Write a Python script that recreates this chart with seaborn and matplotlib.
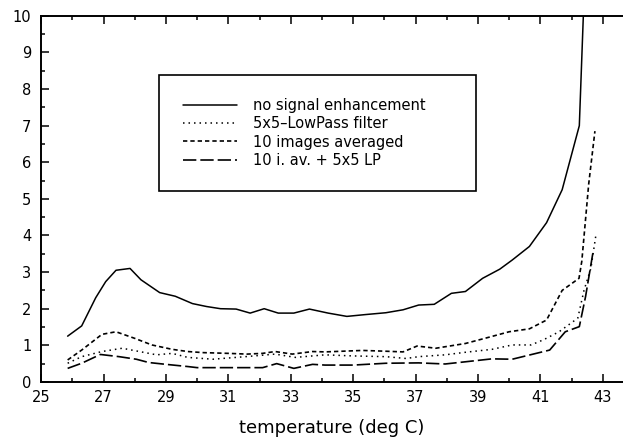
import matplotlib
matplotlib.use("Agg")
import matplotlib.pyplot as plt
from matplotlib.ticker import MultipleLocator
import seaborn as sns
import pandas as pd

# Measured curves: temperature (deg C) vs. signal
temp_plain = [25.85, 26.3, 26.75, 27.07, 27.4, 27.85, 28.2, 28.8, 29.3, 29.85,
              30.3, 30.75, 31.25, 31.7, 32.15, 32.6, 33.1, 33.6, 34.2, 34.8,
              35.4, 36.05, 36.6, 37.1, 37.6, 38.15, 38.6, 39.15, 39.7, 40.1,
              40.65, 41.2, 41.7, 42.25, 42.4]
val_plain = [1.25, 1.53, 2.3, 2.74, 3.05, 3.1, 2.79, 2.44, 2.34, 2.14,
             2.06, 2.0, 1.99, 1.88, 2.0, 1.88, 1.88, 1.99, 1.88, 1.79,
             1.84, 1.89, 1.97, 2.1, 2.12, 2.42, 2.47, 2.83, 3.08, 3.33,
             3.7, 4.35, 5.25, 7.0, 10.5]

temp_lp = [25.85, 26.3, 26.95, 27.6, 28.15, 28.7, 29.2, 29.7, 30.5, 31.55,
           32.5, 33.15, 34.1, 35.0, 36.05, 36.7, 37.1, 37.95, 38.6, 39.45,
           40.1, 40.7, 41.1, 41.6, 42.2, 42.4, 42.62, 42.78]
val_lp = [0.51, 0.69, 0.83, 0.92, 0.83, 0.74, 0.78, 0.67, 0.62, 0.69,
          0.76, 0.67, 0.74, 0.71, 0.69, 0.64, 0.69, 0.74, 0.81, 0.89,
          1.01, 1.01, 1.15, 1.37, 1.74, 2.5, 3.1, 4.0]

temp_avg = [25.85, 26.3, 26.95, 27.4, 28.0, 28.55, 29.2, 29.7, 30.2, 31.0,
            31.6, 32.1, 32.5, 33.05, 33.7, 34.1, 34.7, 35.3, 36.0, 36.6,
            37.05, 37.65, 38.6, 39.35, 40.0, 40.65, 41.2, 41.7, 42.24, 42.33,
            42.55, 42.75]
val_avg = [0.6, 0.87, 1.3, 1.37, 1.19, 1.01, 0.89, 0.83, 0.8, 0.78,
           0.76, 0.78, 0.83, 0.76, 0.83, 0.82, 0.84, 0.86, 0.84, 0.82,
           0.98, 0.92, 1.05, 1.22, 1.37, 1.45, 1.69, 2.5, 2.83, 3.3,
           5.4, 6.85]

temp_avg_lp = [25.85, 26.3, 26.9, 27.5, 28.05, 28.45, 29.0, 29.7, 30.0, 31.0,
               32.1, 32.55, 33.1, 33.7, 34.1, 35.0, 36.05, 37.1, 37.95, 38.6,
               39.45, 40.1, 41.3, 41.8, 42.25, 42.45, 42.7]
val_avg_lp = [0.37, 0.51, 0.75, 0.69, 0.62, 0.53, 0.48, 0.42, 0.39, 0.39,
              0.39, 0.5, 0.37, 0.48, 0.46, 0.46, 0.51, 0.52, 0.49, 0.55,
              0.63, 0.62, 0.87, 1.37, 1.51, 2.33, 3.6]

labels = ["no signal enhancement", "5x5\u2013LowPass filter",
          "10 images averaged", "10 i. av. + 5x5 LP"]
x_ticks = [25, 27, 29, 31, 33, 35, 37, 39, 41, 43]
y_ticks = [0, 1, 2, 3, 4, 5, 6, 7, 8, 9, 10]

sns.set_style("ticks")
plt.rcParams["font.family"] = ["DejaVu Sans"]
plt.rcParams["text.color"] = "black"
plt.rcParams["axes.labelcolor"] = "black"

fig = plt.figure(figsize=(6.23, 4.4), dpi=100)
ax = fig.add_axes([0.066, 0.132, 0.934, 0.832])

series = [
    (temp_plain, val_plain, "-", 1.1),
    (temp_lp, val_lp, (0, (1, 2.6)), 1.1),
    (temp_avg, val_avg, (0, (2.6, 1.8)), 1.2),
    (temp_avg_lp, val_avg_lp, (0, (8, 2.4)), 1.2),
]
for (tx, vy, ls, lw), lab in zip(series, labels):
    df = pd.DataFrame({"temperature": tx, "value": vy})
    sns.lineplot(data=df, x="temperature", y="value", ax=ax, color="black",
                 linestyle=ls, linewidth=lw, label=lab, sort=False,
                 estimator=None)

ax.set_xlim(25, 43.65)
ax.set_ylim(0, 10)
ax.set_xticks(x_ticks)
ax.set_yticks(y_ticks)
ax.xaxis.set_minor_locator(MultipleLocator(1))
ax.yaxis.set_minor_locator(MultipleLocator(0.5))
ax.tick_params(which="both", direction="in", top=True, right=False,
               colors="black", labelsize=10.5, width=1.1)
ax.tick_params(which="major", length=6, pad=6)
ax.tick_params(which="minor", length=3)
ax.tick_params(axis="y", pad=7)

for side in ["left", "bottom", "top"]:
    ax.spines[side].set_visible(True)
    ax.spines[side].set_color("black")
    ax.spines[side].set_linewidth(1.4)
ax.spines["right"].set_visible(False)

ax.set_xlabel("temperature (deg C)", fontsize=13, labelpad=10, color="black")
ax.set_ylabel("")

leg = ax.legend(loc="upper left", bbox_to_anchor=(0.203, 0.528, 0.545, 0.311),
                mode="expand", frameon=True, fancybox=False, framealpha=1,
                edgecolor="black", fontsize=10.5, handlelength=3.7,
                handletextpad=1.1, borderpad=1.6, labelspacing=0.22,
                borderaxespad=0, labelcolor="black")
leg.get_frame().set_linewidth(1.2)

fig.savefig("out.png", dpi=100, facecolor="white")
